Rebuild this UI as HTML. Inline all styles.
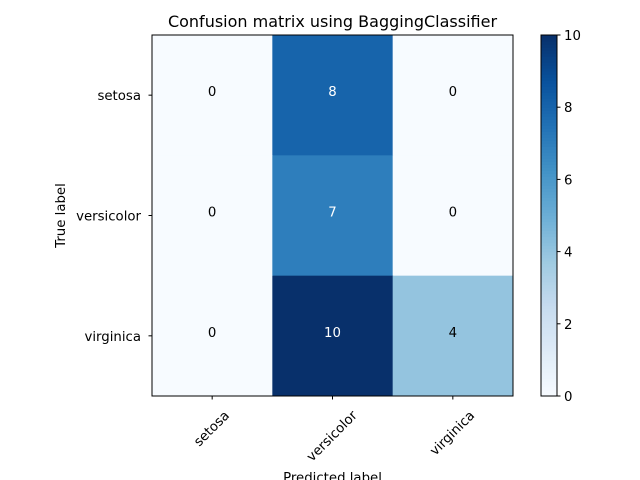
<!DOCTYPE html>
<html><head><meta charset="utf-8"><style>body{margin:0;background:#fff}svg{display:block;font-family:"DejaVu Sans","Liberation Sans",sans-serif}</style></head>
<body>
<svg id="c" width="640" height="480"></svg>
<script>
const classes=["setosa","versicolor","virginica"];
const matrix=[[0,8,0],[0,7,0],[0,10,4]];
const cbTicks=[0,2,4,6,8,10];
const vmin=0,vmax=10;
const NS="http://www.w3.org/2000/svg";
const svg=document.getElementById('c');
function el(t,a,p){const e=document.createElementNS(NS,t);for(const k in a)e.setAttribute(k,a[k]);(p||svg).appendChild(e);return e;}
const stops=["#f7fbff","#deebf7","#c6dbef","#9ecae1","#6baed6","#4292c6","#2171b5","#08519c","#08306b"];
function hex(h){return [1,3,5].map(i=>parseInt(h.substr(i,2),16));}
function blues(t){t=Math.max(0,Math.min(1,t));const p=t*8,i=Math.min(7,Math.floor(p)),f=p-i;const a=hex(stops[i]),b=hex(stops[i+1]);return `rgb(${a.map((v,k)=>Math.round(v+(b[k]-v)*f)).join(',')})`;}
const X0=152,Y0=35,W=361,H=361,n=classes.length,cw=W/n,ch=H/n;
const xs=j=>X0+cw*(j+0.5), ys=i=>Y0+ch*(i+0.5);
const FS=13.3;
const cells=el('g',{});


matrix.forEach((row,i)=>row.forEach((v,j)=>{
  const r=el('rect',{x:X0+cw*j,y:Y0+ch*i,width:cw+0.5,height:ch+0.5,fill:blues((v-vmin)/(vmax-vmin))},cells);
  
  
  const t=el('text',{x:xs(j),y:ys(i)+1,'text-anchor':'middle','font-size':FS,fill:v>vmax/2?'#fff':'#000'},cells);
  t.textContent=v;
  
  
}));
el('rect',{x:X0,y:Y0,width:W,height:H,fill:'none',stroke:'#000','stroke-width':1});
classes.forEach((c,k)=>{
  el('line',{x1:xs(k),x2:xs(k),y1:Y0+H,y2:Y0+H+3.5,stroke:'#000'});
  const t=el('text',{x:0,y:0,'text-anchor':'middle','dominant-baseline':'central','font-size':FS});
  t.textContent=c;
  
  
  const L=t.getComputedTextLength();
  const cyy=Y0+H+13+(L+FS)*0.7071/2;
  t.setAttribute('x',xs(k));t.setAttribute('y',cyy);
  t.setAttribute('transform',`rotate(-45 ${xs(k)} ${cyy})`);
  el('line',{x1:X0-3.5,x2:X0,y1:ys(k),y2:ys(k),stroke:'#000'});
  const u=el('text',{x:X0-11,y:ys(k)+5,'text-anchor':'end','font-size':FS});
  u.textContent=c;
  
  
});
const title=el('text',{x:X0+W/2,y:27,'text-anchor':'middle','font-size':16});
title.textContent="Confusion matrix using BaggingClassifier";


const yl=el('text',{x:65,y:Y0+H/2,'text-anchor':'middle','font-size':FS,transform:`rotate(-90 65 ${Y0+H/2})`});
yl.textContent="True label";


const xl=el('text',{x:X0+W/2,y:482,'text-anchor':'middle','font-size':FS});
xl.textContent="Predicted label";


const CX=541,CW=16;
const cb=el('g',{});


const N=120;
for(let k=0;k<N;k++){el('rect',{x:CX,y:Y0+H-(k+1)*H/N,width:CW,height:H/N+0.6,fill:blues((k+0.5)/N)},cb);}
el('rect',{x:CX,y:Y0,width:CW,height:H,fill:'none',stroke:'#000'},cb);
const cy=v=>Y0+H-(v-vmin)/(vmax-vmin)*H;
cbTicks.forEach(v=>{
  el('line',{x1:CX+CW,x2:CX+CW+3.5,y1:cy(v),y2:cy(v),stroke:'#000'},cb);
  const t=el('text',{x:CX+CW+7,y:cy(v)+5,'font-size':FS},cb);
  t.textContent=v;
  
  
});
</script>
</body></html>
